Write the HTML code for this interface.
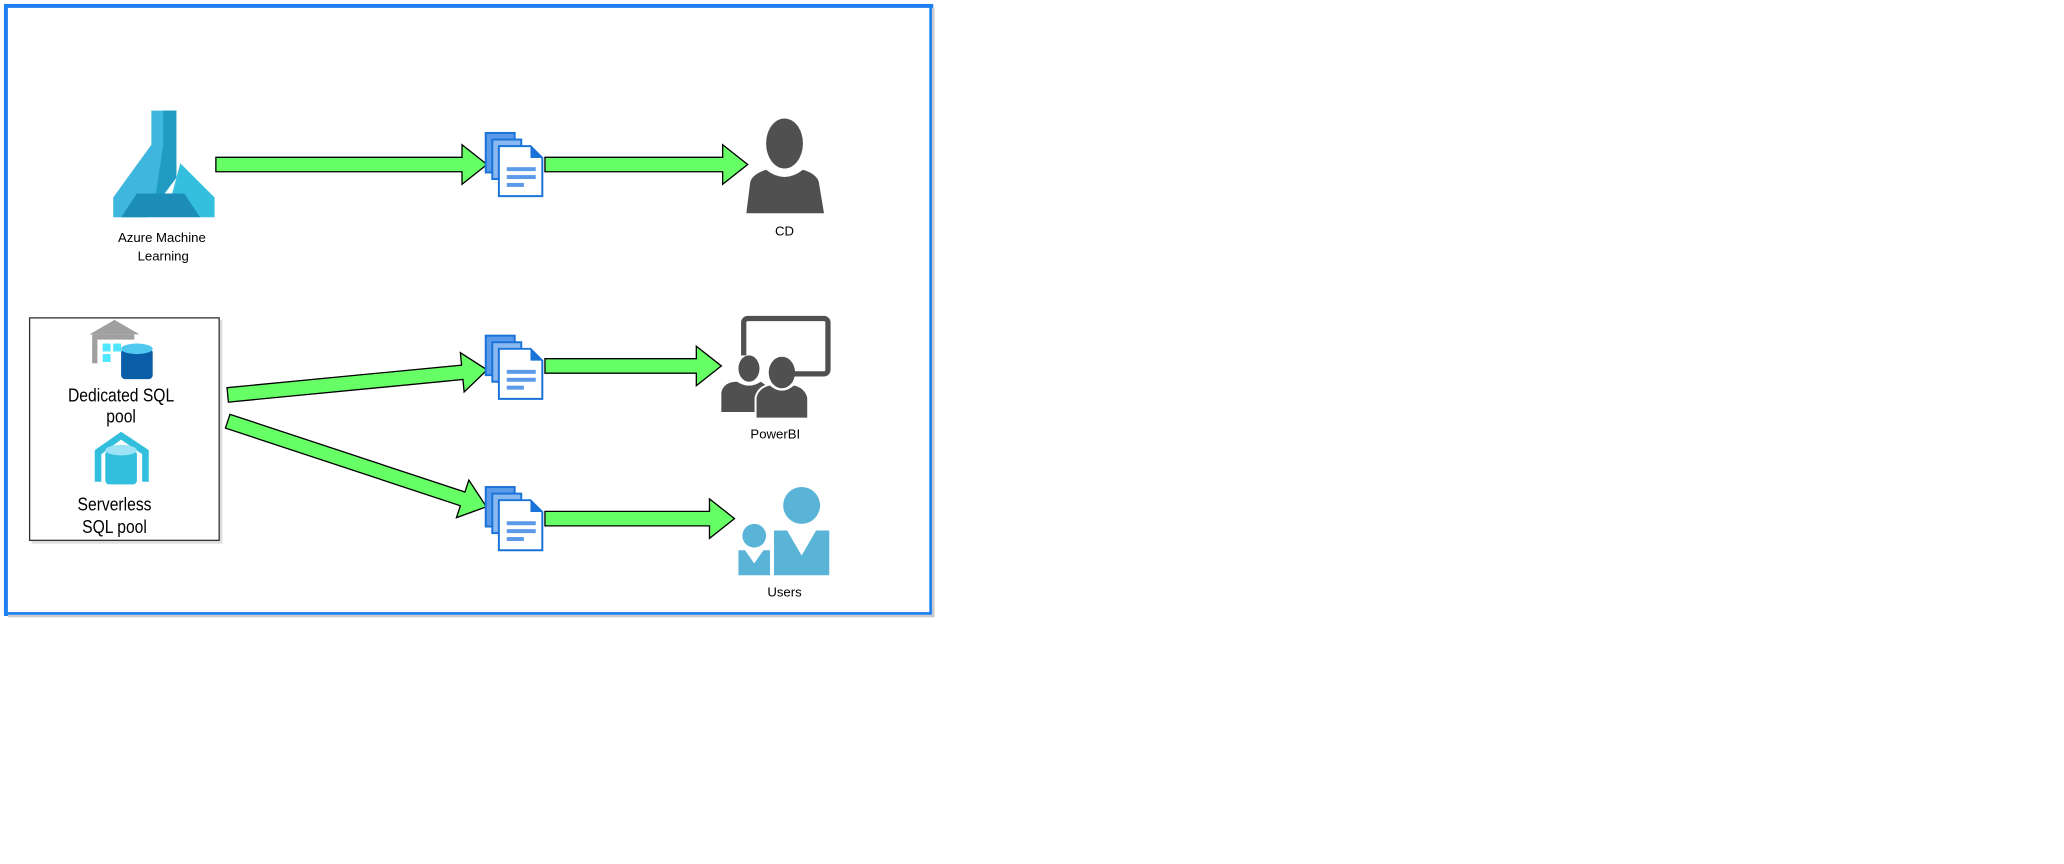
<!DOCTYPE html>
<html><head><meta charset="utf-8"><style>
html,body{margin:0;padding:0;background:#fff;}
body{width:2064px;height:864px;overflow:hidden;position:relative;}
#s{position:absolute;left:0;top:0;width:1568px;height:656px;transform:scale(1.3163);transform-origin:0 0;}
svg{position:absolute;left:0;top:0;}
text{font-family:"Liberation Sans",sans-serif;fill:#000;}
</style></head><body><div id="s">
<svg width="1568" height="656" viewBox="0 0 1568 656">
<defs>
<g id="doc">
<rect x="0" y="0" width="22" height="30" fill="#5a9ae8" stroke="#1a73d8" stroke-width="1.5"/>
<rect x="5" y="5" width="22" height="30" fill="#8ab8f0" stroke="#1a73d8" stroke-width="1.5"/>
<path d="M10 10 H34 L43 19 V48 H10 Z" fill="#fff" stroke="#1a73d8" stroke-width="1.5"/>
<path d="M34 10 L43 19 H34 Z" fill="#1a73d8"/>
<rect x="16" y="26" width="22" height="3" fill="#5a9ae8"/>
<rect x="16" y="32" width="22" height="3" fill="#5a9ae8"/>
<rect x="16" y="38" width="13" height="3" fill="#5a9ae8"/>
</g>
</defs>
<rect x="4.5" y="4.5" width="703" height="462" fill="#fff" stroke="#1e7ff0" stroke-width="3"/>
<rect x="708" y="6" width="2" height="463" fill="#ccc"/>
<rect x="6" y="467" width="704" height="2" fill="#ccc"/>

<!-- flask -->
<polygon points="115,84 134,84 134,135 112,165 86,165 86,150 115,110" fill="#3fb6dd"/>
<polygon points="124,84 134,84 134,135 122,150 118,150 124,110" fill="#1f9bc4"/>
<polygon points="137,124 163,150 163,165 150,165 130,150" fill="#35bfdf"/>
<polygon points="104,147 140,147 152,165 92,165" fill="#1c8cb8"/>
<text x="123" y="184" font-size="10" text-anchor="middle">Azure Machine</text>
<text x="124" y="198" font-size="10" text-anchor="middle">Learning</text>

<!-- arrows -->
<g fill="#66ff66" stroke="#000" stroke-width="1">
<polygon points="164,119.5 351,119.5 351,110 370,125 351,140 351,130.5 164,130.5"/>
<polygon points="414,119.5 549,119.5 549,110 568,125 549,140 549,130.5 414,130.5"/>
<polygon points="414,272.5 529,272.5 529,263 548,278 529,293 529,283.5 414,283.5"/>
<polygon points="414,388.5 539,388.5 539,379 558,394 539,409 539,399.5 414,399.5"/>
<g transform="translate(173,300) rotate(-5.5)"><polygon points="0,-5.5 179,-5.5 179,-15 198,0 179,15 179,5.5 0,5.5"/></g>
<g transform="translate(173,320) rotate(18.3)"><polygon points="0,-5.5 188,-5.5 188,-15 207,0 188,15 188,5.5 0,5.5"/></g>
</g>

<use href="#doc" x="369" y="101"/>
<use href="#doc" x="369" y="255"/>
<use href="#doc" x="369" y="370"/>

<!-- CD person -->
<ellipse cx="596" cy="109" rx="14" ry="19" fill="#505050"/>
<path d="M567,162 L570,138 Q572,132 582,129 Q596,140 610,129 Q620,132 622,138 L626,162 Z" fill="#505050"/>
<text x="596" y="179" font-size="10" text-anchor="middle">CD</text>

<!-- SQL box -->
<rect x="24" y="243" width="145" height="170" fill="#ddd"/>
<rect x="22.5" y="241.5" width="144" height="169" fill="#fff" stroke="#333" stroke-width="1"/>
<polygon points="68,254 87,243 106,254" fill="#a0a0a0"/>
<rect x="70" y="254" width="32" height="4" fill="#a0a0a0"/>
<rect x="70" y="258" width="4" height="18" fill="#a0a0a0"/>
<rect x="78" y="261" width="6" height="6" fill="#50e6ff"/><rect x="86" y="261" width="6" height="6" fill="#50e6ff"/>
<rect x="78" y="269" width="6" height="6" fill="#50e6ff"/>
<rect x="92" y="265" width="24" height="23" rx="3" fill="#0a5ea8"/>
<ellipse cx="104" cy="265" rx="12" ry="4" fill="#50c8f0"/>
<g transform="translate(92,0) scale(0.85,1)">
<text x="0" y="305" font-size="14" text-anchor="middle">Dedicated SQL</text>
<text x="0" y="321" font-size="14" text-anchor="middle">pool</text></g>
<path d="M72,342 L92,328 L113,342 V366 H108 V345 L92,334 L77,345 V366 H72 Z" fill="#32bedd"/>
<rect x="80" y="342" width="24" height="26" rx="3" fill="#32bedd"/>
<ellipse cx="92" cy="342" rx="12" ry="4" fill="#9de3f5"/>
<g transform="translate(87,0) scale(0.85,1)">
<text x="0" y="388" font-size="14" text-anchor="middle">Serverless</text>
<text x="0" y="405" font-size="14" text-anchor="middle">SQL pool</text></g>

<!-- PowerBI -->
<rect x="565" y="242" width="64" height="42" rx="3" fill="none" stroke="#505050" stroke-width="4"/>
<rect x="563" y="270" width="22" height="20" fill="#fff"/>
<ellipse cx="569" cy="280" rx="8" ry="10" fill="#505050"/>
<path d="M548,313 V298 Q550,290 560,290 Q569,296 578,290 L585,295 V313 Z" fill="#505050"/>
<ellipse cx="594" cy="283" rx="10" ry="12" fill="#505050"/>
<path d="M574,318 V302 Q576,294 585,292 Q594,300 603,292 Q612,294 614,302 V318 Z" fill="#505050" stroke="#fff" stroke-width="1.5"/>
<text x="589" y="333" font-size="10" text-anchor="middle">PowerBI</text>

<!-- Users -->
<ellipse cx="609" cy="384" rx="14" ry="14" fill="#5ab4d8"/>
<path d="M588,403 H598 L609,422 L620,403 H630 V437 H588 Z" fill="#5ab4d8"/>
<ellipse cx="573" cy="407" rx="9" ry="9" fill="#5ab4d8"/>
<path d="M561,418 H566 L573,428 L580,418 H585 V437 H561 Z" fill="#5ab4d8"/>
<text x="596" y="453" font-size="10" text-anchor="middle">Users</text>
</svg>
</div></body></html>
